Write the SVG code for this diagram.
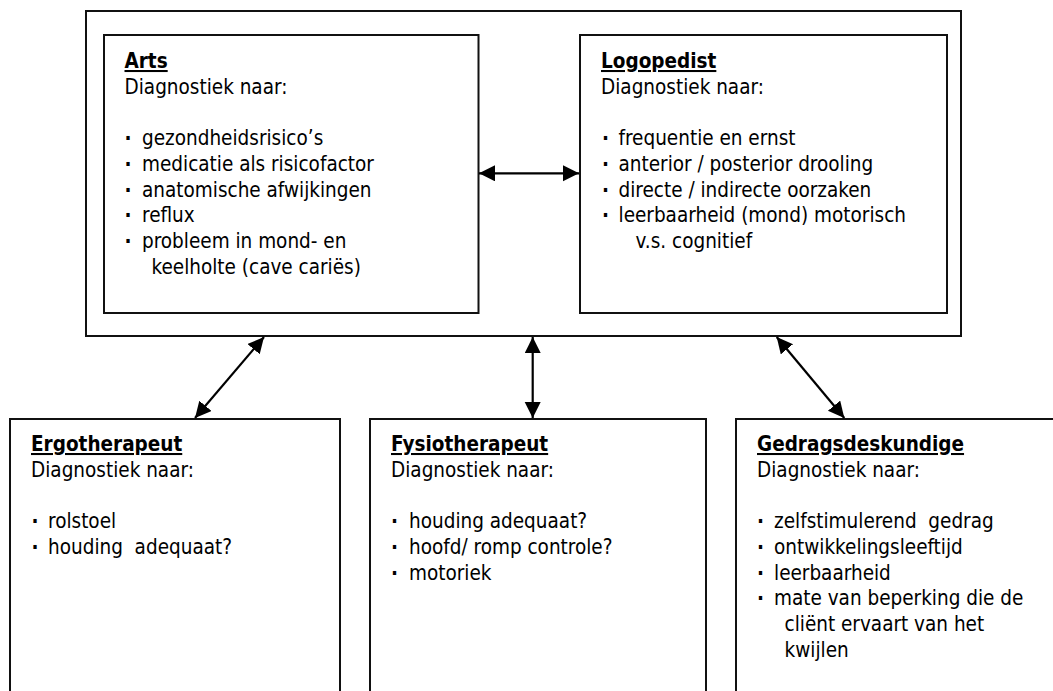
<svg xmlns="http://www.w3.org/2000/svg" width="1053" height="691" viewBox="0 0 1053 691">
<style>
  .box { fill: #fff; stroke: #111; stroke-width: 2; }
  .t { font-family: "DejaVu Sans Condensed", "Liberation Sans", sans-serif; font-size: 20.5px; fill: #000; white-space: pre; }
  .h { font-weight: bold; text-decoration: underline; }
  .b { font-weight: bold; }
  .conn { stroke: #000; stroke-width: 2.2; fill: none; marker-start: url(#ah); marker-end: url(#ah); }
</style>
<defs>
  <marker id="ah" markerUnits="userSpaceOnUse" markerWidth="17" markerHeight="17" refX="16" refY="8" orient="auto-start-reverse">
    <path d="M0,0 L16,8 L0,16 z" fill="#000"/>
  </marker>
</defs>
<rect width="1053" height="691" fill="#fff"/>

<g id="outer">
  <rect class="box" x="86" y="11" width="875" height="325"/>
</g>

<g id="arts">
  <rect class="box" x="104" y="35" width="374.5" height="278"/>
  <text class="t h" x="124.5" y="68">Arts</text>
  <text class="t" x="124.5" y="94">Diagnostiek naar:</text>
  <text class="t b" x="124.5" y="145">·</text><text class="t" x="142" y="145">gezondheidsrisico’s</text>
  <text class="t b" x="124.5" y="171">·</text><text class="t" x="142" y="171">medicatie als risicofactor</text>
  <text class="t b" x="124.5" y="197">·</text><text class="t" x="142" y="197">anatomische afwijkingen</text>
  <text class="t b" x="124.5" y="222">·</text><text class="t" x="142" y="222">reflux</text>
  <text class="t b" x="124.5" y="248">·</text><text class="t" x="142" y="248">probleem in mond- en</text>
  <text class="t" x="151.5" y="274">keelholte (cave cariës)</text>
</g>

<g id="logopedist">
  <rect class="box" x="580" y="35" width="367" height="278"/>
  <text class="t h" x="601" y="68">Logopedist</text>
  <text class="t" x="601" y="94">Diagnostiek naar:</text>
  <text class="t b" x="602" y="145">·</text><text class="t" x="618.5" y="145">frequentie en ernst</text>
  <text class="t b" x="602" y="171">·</text><text class="t" x="618.5" y="171">anterior / posterior drooling</text>
  <text class="t b" x="602" y="197">·</text><text class="t" x="618.5" y="197">directe / indirecte oorzaken</text>
  <text class="t b" x="602" y="222">·</text><text class="t" x="618.5" y="222">leerbaarheid (mond) motorisch</text>
  <text class="t" x="635.5" y="248">v.s. cognitief</text>
</g>

<g id="ergotherapeut">
  <rect class="box" x="10" y="419" width="330" height="290"/>
  <text class="t h" x="31" y="451">Ergotherapeut</text>
  <text class="t" x="31" y="477">Diagnostiek naar:</text>
  <text class="t b" x="31.5" y="528">·</text><text class="t" x="48" y="528">rolstoel</text>
  <text class="t b" x="31.5" y="554">·</text><text class="t" x="48" y="554">houding  adequaat?</text>
</g>

<g id="fysiotherapeut">
  <rect class="box" x="370" y="419" width="336" height="290"/>
  <text class="t h" x="391" y="451">Fysiotherapeut</text>
  <text class="t" x="391" y="477">Diagnostiek naar:</text>
  <text class="t b" x="391" y="528">·</text><text class="t" x="409" y="528">houding adequaat?</text>
  <text class="t b" x="391" y="554">·</text><text class="t" x="409" y="554">hoofd/ romp controle?</text>
  <text class="t b" x="391" y="580">·</text><text class="t" x="409" y="580">motoriek</text>
</g>

<g id="gedragsdeskundige">
  <rect class="box" x="736" y="419" width="340" height="290"/>
  <text class="t h" x="757" y="451">Gedragsdeskundige</text>
  <text class="t" x="757" y="477">Diagnostiek naar:</text>
  <text class="t b" x="757" y="528">·</text><text class="t" x="774" y="528">zelfstimulerend  gedrag</text>
  <text class="t b" x="757" y="554">·</text><text class="t" x="774" y="554">ontwikkelingsleeftijd</text>
  <text class="t b" x="757" y="580">·</text><text class="t" x="774" y="580">leerbaarheid</text>
  <text class="t b" x="757" y="605">·</text><text class="t" x="774" y="605">mate van beperking die de</text>
  <text class="t" x="784.5" y="631">cliënt ervaart van het</text>
  <text class="t" x="784.5" y="657">kwijlen</text>
</g>

<g id="connectors">
  <line class="conn" x1="479" y1="173.3" x2="579" y2="173.3"/>
  <line class="conn" x1="264" y1="337" x2="195" y2="418"/>
  <line class="conn" x1="532.7" y1="337" x2="532.7" y2="418"/>
  <line class="conn" x1="776.7" y1="337" x2="844.3" y2="418"/>
</g>
</svg>
